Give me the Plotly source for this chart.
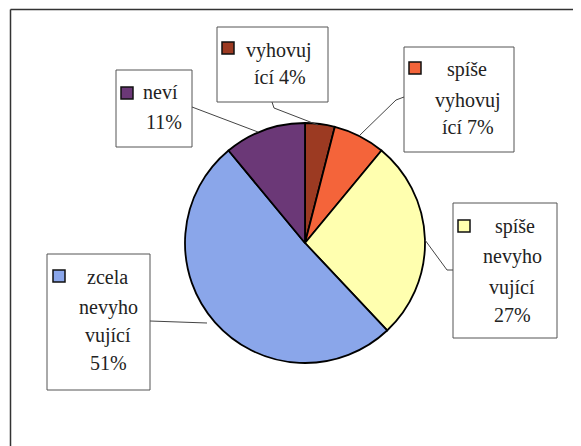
import plotly.graph_objects as go

# data
categories = ["vyhovující", "spíše vyhovující", "spíše nevyhovující",
              "zcela nevyhovující", "neví"]
values = [4, 7, 27, 51, 11]
# label text as wrapped in the chart boxes ({p} = share in %)
label_lines = [
    ["vyhovuj", "ící {p}%"],
    ["spíše", "vyhovuj", "ící {p}%"],
    ["spíše", "nevyho", "vující", "{p}%"],
    ["zcela", "nevyho", "vující", "{p}%"],
    ["neví", "{p}%"],
]

colors = ["#9C3A22", "#F4643A", "#FFFFAF", "#8AA6EA", "#6B3877"]

W, H = 581, 446
OFF = 8  # page body margin of the html output
FONT = "'Times New Roman', 'Liberation Serif', 'DejaVu Serif', serif"


def px(x):
    return (x - OFF) / W


def py(y):
    return 1 - (y - OFF) / H


fig = go.Figure(
    go.Pie(
        labels=categories,
        values=values,
        sort=False,
        direction="clockwise",
        rotation=0,
        textinfo="none",
        hoverinfo="label+percent",
        marker=dict(colors=colors, line=dict(color="black", width=1.8)),
        domain=dict(x=[px(184), px(426)], y=[py(363), py(123)]),
        showlegend=False,
    )
)

# label boxes: (x0, y0, x1, y1) in pixels, key square, line centres
boxes = [
    dict(box=(217, 27, 328, 102), key=(222, 42), cx=[279, 280], cy=[50, 77]),
    dict(box=(404, 47, 514, 152), key=(409, 62), cx=[467, 468, 468], cy=[69, 100, 127]),
    dict(box=(453, 203, 557, 338), key=(458, 220), cx=[515, 512, 512, 512], cy=[226, 256, 287, 315]),
    dict(box=(47, 254, 150, 390), key=(53, 270), cx=[107, 108, 108, 108], cy=[277, 307, 335, 363]),
    dict(box=(116, 70, 192, 147), key=(121, 87), cx=[160, 164], cy=[92, 122]),
]

leaders = [
    [(272, 102), (274, 108), (318, 125)],
    [(404, 97), (396, 100), (360, 135)],
    [(453, 270), (447, 270), (425, 240)],
    [(150, 321), (207, 323)],
    [(192, 107), (258, 132)],
]

shapes = [
    # outer chart frame (top and left edges visible)
    dict(type="line", x0=px(10.5), x1=px(600), y0=py(9.5), y1=py(9.5),
         line=dict(color="#333", width=1.5)),
    dict(type="line", x0=px(10.5), x1=px(10.5), y0=py(9.5), y1=py(460),
         line=dict(color="#333", width=1.5)),
]
annotations = []
for i, b in enumerate(boxes):
    x0, y0, x1, y1 = b["box"]
    shapes.append(dict(type="rect", x0=px(x0), x1=px(x1), y0=py(y1), y1=py(y0),
                       line=dict(color="#555", width=1), fillcolor="white"))
    kx, ky = b["key"]
    shapes.append(dict(type="rect", x0=px(kx), x1=px(kx + 12), y0=py(ky + 12), y1=py(ky),
                       line=dict(color="#111", width=1.5), fillcolor=colors[i]))
    for line, cx, cy in zip(label_lines[i], b["cx"], b["cy"]):
        annotations.append(dict(
            text=line.format(p=values[i]), x=px(cx), y=py(cy),
            xref="paper", yref="paper", showarrow=False,
            xanchor="center", yanchor="middle",
            font=dict(family=FONT, size=20, color="#222"),
        ))

for pts in leaders:
    path = "M " + " L ".join(f"{px(x)},{py(y)}" for x, y in pts)
    shapes.append(dict(type="path", path=path, xref="paper", yref="paper",
                       line=dict(color="#444", width=1)))

fig.update_layout(
    width=W, height=H,
    margin=dict(l=0, r=0, t=0, b=0),
    paper_bgcolor="white",
    plot_bgcolor="white",
    font=dict(family=FONT),
    shapes=shapes,
    annotations=annotations,
)

fig.write_html("out.html")
